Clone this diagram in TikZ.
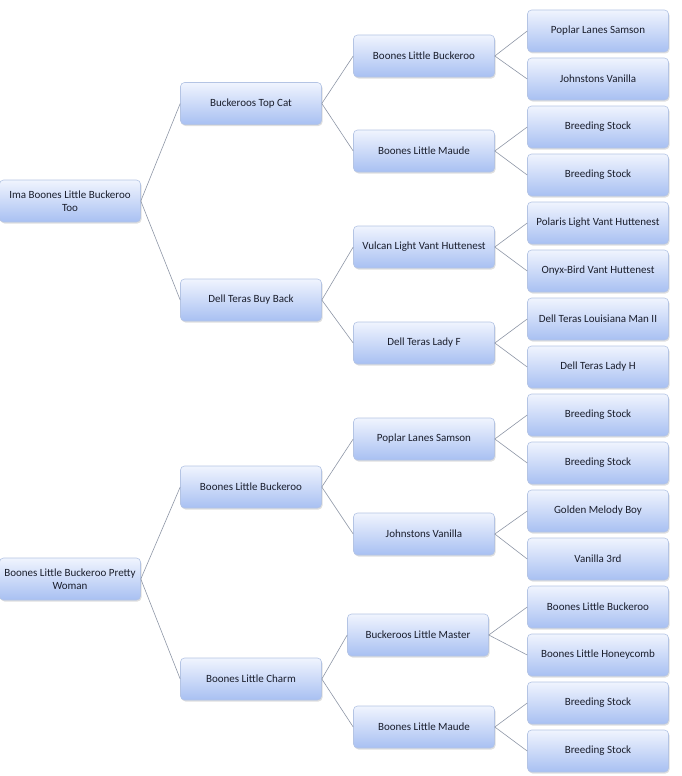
\documentclass[tikz,border=0pt]{standalone}
\usepackage{fontspec}
\setmainfont{Carlito}
\usetikzlibrary{positioning,shadows}
\definecolor{BoxTop}{HTML}{F0F4FE}
\definecolor{BoxBot}{HTML}{A8C0F2}
\definecolor{BoxLine}{HTML}{B4C4E4}
\definecolor{LinkGray}{HTML}{8E96A6}
\definecolor{TextDark}{HTML}{1A1E2C}

\begin{document}
\begin{tikzpicture}[x=1pt,y=-1pt,font=\fontsize{11}{12.5}\selectfont,
  horse/.style={draw=BoxLine,line width=0.6pt,rounded corners=4pt,align=center,inner xsep=2pt,
    minimum width=141pt,minimum height=42pt,top color=BoxTop,bottom color=BoxBot,text=TextDark,
    drop shadow={opacity=0.25,shadow xshift=1pt,shadow yshift=-1.5pt}},
  link/.style={draw=LinkGray,line width=0.6pt}]
  \useasboundingbox (0,0) rectangle (681,776);
  % sire line
  \node[horse] (ima) at (70,201) {Ima Boones Little Buckeroo\\Too};
  \node[horse] (topcat) at (251,103.5) {Buckeroos Top Cat};
  \node[horse] (buyback) at (251,300) {Dell Teras Buy Back};
  \node[horse] (blb) at (424,56) {Boones Little Buckeroo};
  \node[horse] (blm) at (424,151) {Boones Little Maude};
  \node[horse] (vulcan) at (424,247) {Vulcan Light Vant Huttenest};
  \node[horse] (ladyf) at (424,343) {Dell Teras Lady F};
  \node[horse] (pls) at (598,31) {Poplar Lanes Samson};
  \node[horse] (jv) at (598,79) {Johnstons Vanilla};
  \node[horse] (bs1) at (598,127) {Breeding Stock};
  \node[horse] (bs2) at (598,175) {Breeding Stock};
  \node[horse] (polaris) at (598,223) {Polaris Light Vant Huttenest};
  \node[horse] (onyx) at (598,271) {Onyx-Bird Vant Huttenest};
  \node[horse] (louisiana) at (598,319) {Dell Teras Louisiana Man II};
  \node[horse] (ladyh) at (598,367) {Dell Teras Lady H};
  % dam line
  \node[horse] (pretty) at (70,579) {Boones Little Buckeroo Pretty\\Woman};
  \node[horse] (blb2) at (251,487) {Boones Little Buckeroo};
  \node[horse] (charm) at (251,679) {Boones Little Charm};
  \node[horse] (pls2) at (424,439) {Poplar Lanes Samson};
  \node[horse] (jv2) at (424,534) {Johnstons Vanilla};
  \node[horse] (master) at (418,635) {Buckeroos Little Master};
  \node[horse] (blm2) at (424,727) {Boones Little Maude};
  \node[horse] (bs3) at (598,415) {Breeding Stock};
  \node[horse] (bs4) at (598,463) {Breeding Stock};
  \node[horse] (golden) at (598,511) {Golden Melody Boy};
  \node[horse] (v3) at (598,559) {Vanilla 3rd};
  \node[horse] (blb3) at (598,607) {Boones Little Buckeroo};
  \node[horse] (honey) at (598,655) {Boones Little Honeycomb};
  \node[horse] (bs5) at (598,703) {Breeding Stock};
  \node[horse] (bs6) at (598,751) {Breeding Stock};
  % links
  \draw[link] (ima.east) -- (topcat.west);
  \draw[link] (ima.east) -- (buyback.west);
  \draw[link] (topcat.east) -- (blb.west);
  \draw[link] (topcat.east) -- (blm.west);
  \draw[link] (buyback.east) -- (vulcan.west);
  \draw[link] (buyback.east) -- (ladyf.west);
  \draw[link] (blb.east) -- (pls.west);
  \draw[link] (blb.east) -- (jv.west);
  \draw[link] (blm.east) -- (bs1.west);
  \draw[link] (blm.east) -- (bs2.west);
  \draw[link] (vulcan.east) -- (polaris.west);
  \draw[link] (vulcan.east) -- (onyx.west);
  \draw[link] (ladyf.east) -- (louisiana.west);
  \draw[link] (ladyf.east) -- (ladyh.west);
  \draw[link] (pretty.east) -- (blb2.west);
  \draw[link] (pretty.east) -- (charm.west);
  \draw[link] (blb2.east) -- (pls2.west);
  \draw[link] (blb2.east) -- (jv2.west);
  \draw[link] (charm.east) -- (master.west);
  \draw[link] (charm.east) -- (blm2.west);
  \draw[link] (pls2.east) -- (bs3.west);
  \draw[link] (pls2.east) -- (bs4.west);
  \draw[link] (jv2.east) -- (golden.west);
  \draw[link] (jv2.east) -- (v3.west);
  \draw[link] (master.east) -- (blb3.west);
  \draw[link] (master.east) -- (honey.west);
  \draw[link] (blm2.east) -- (bs5.west);
  \draw[link] (blm2.east) -- (bs6.west);
\end{tikzpicture}
\end{document}
